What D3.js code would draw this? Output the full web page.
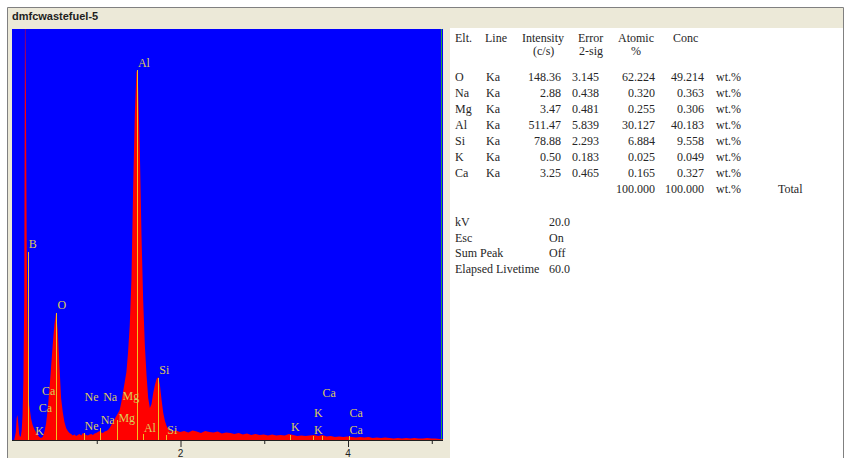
<!DOCTYPE html>
<html>
<head>
<meta charset="utf-8">
<script src="https://cdn.jsdelivr.net/npm/d3@7"></script>
<style>
  body { margin: 0; background: #ffffff; }
  svg { display: block; }
</style>
</head>
<body>
<svg id="chart" width="847" height="458"></svg>
<script>
// ---------- data ----------
const windowTitle = "dmfcwastefuel-5";

// EDS spectrum: channel energy (keV) and counts
const energies = [
  0.00, 0.02, 0.04, 0.05, 0.06, 0.07, 0.08, 0.09, 0.10, 0.11, 0.12, 0.13, 0.14, 0.15, 0.16, 0.17, 0.18, 0.19, 0.20,
  0.22, 0.24, 0.26, 0.28, 0.30, 0.32, 0.34, 0.36, 0.38, 0.40, 0.42, 0.44, 0.46, 0.48, 0.50, 0.52, 0.54, 0.56, 0.58,
  0.60, 0.62, 0.64, 0.66, 0.68, 0.70, 0.72, 0.74, 0.76, 0.78, 0.80, 0.82, 0.84, 0.86, 0.88, 0.90, 0.92, 0.94, 0.96,
  0.98, 1.00, 1.02, 1.04, 1.06, 1.08, 1.10, 1.12, 1.14, 1.16, 1.18, 1.20, 1.22, 1.24, 1.26, 1.28, 1.30, 1.32, 1.34,
  1.36, 1.38, 1.40, 1.42, 1.44, 1.46, 1.48, 1.49, 1.50, 1.52, 1.54, 1.56, 1.58, 1.60, 1.62, 1.64, 1.66, 1.68, 1.70,
  1.72, 1.74, 1.76, 1.78, 1.80, 1.82, 1.84, 1.86, 1.88,
  1.90, 1.95, 2.00, 2.05, 2.10, 2.15, 2.20, 2.25, 2.30, 2.35, 2.40, 2.45, 2.50, 2.55, 2.60, 2.65, 2.70, 2.75, 2.80,
  2.85, 2.90, 2.95, 3.00, 3.05, 3.10, 3.15, 3.20, 3.25, 3.30, 3.35, 3.40, 3.45, 3.50, 3.55, 3.60, 3.65, 3.70, 3.75,
  3.80, 3.85, 3.90, 3.95, 4.00, 4.05, 4.10, 4.15, 4.20, 4.25, 4.30, 4.35, 4.40, 4.45, 4.50, 4.55, 4.60, 4.65, 4.70,
  4.75, 4.80, 4.85, 4.90, 4.95, 5.00, 5.05, 5.10, 5.15
];
const counts = [
  0, 0, 80, 220, 250, 150, 60, 30, 40, 100, 250, 600, 1400, 4500, 3480, 1900, 1100, 550, 350,
  220, 150, 110, 80, 50, 30, 20, 30, 80, 160, 300, 500, 720, 950, 1150, 1270, 1100, 750, 420,
  280, 180, 120, 90, 70, 60, 45, 55, 40, 50, 60, 45, 70, 60, 50, 45, 55, 60, 50,
  65, 70, 80, 90, 75, 70, 85, 90, 100, 120, 150, 180, 210, 240, 270, 300, 380, 480, 580,
  680, 880, 1150, 1600, 2500, 3250, 3680, 3700, 3520, 2900, 2050, 1400, 950, 650, 420, 320, 360, 470, 550,
  610, 630, 550, 400, 270, 190, 140, 110, 90,
  85, 95, 80, 90, 75, 95, 85, 70, 90, 80, 75, 85, 65, 75, 70, 60, 70, 55, 65,
  50, 60, 50, 55, 45, 55, 45, 50, 45, 60, 50, 40, 45, 40, 45, 50, 40, 50, 35,
  40, 30, 35, 30, 35, 30, 25, 30, 25, 30, 20, 25, 20, 25, 20, 15, 20, 15, 20,
  15, 20, 15, 15, 20, 15, 15, 10, 10
];

// KLM marker lines: element, energy (keV), marker height (counts)
const markerElements = ["B", "O", "Al", "Si", "Ne", "Na", "Mg", "Al", "Si", "K", "K", "Ca", "Ca"];
const markerEnergies = [0.183, 0.525, 1.486, 1.740, 0.849, 1.041, 1.253, 1.557, 1.836, 3.312, 3.589, 3.690, 4.012];
const markerHeights  = [1880, 1270, 3700, 620, 70, 120, 200, 60, 50, 50, 40, 40, 40];

// element labels: name, energy (keV), label height (counts)
const labelNames    = ["B", "O", "Al", "Si", "Ca", "Ca", "K", "Ne", "Na", "Mg", "Ne", "Na", "Mg", "Al", "Si",
                       "Ca", "K", "Ca", "K", "K", "Ca"];
const labelEnergies = [0.183, 0.525, 1.486, 1.740, 0.341, 0.302, 0.260, 0.849, 1.071, 1.302, 0.849, 1.041, 1.253, 1.557, 1.836,
                       3.690, 3.589, 4.012, 3.312, 3.589, 4.012];
const labelHeights  = [1920, 1310, 3730, 660, 450, 280, 50, 390, 390, 400, 100, 160, 180, 80, 60,
                       430, 230, 230, 90, 60, 60];

// energy axis
const axisTicks = [1, 2, 3, 4, 5];
const axisTickLabels = ["", "2", "", "4", ""];

// quantitative results
const tableElements = ["O", "Na", "Mg", "Al", "Si", "K", "Ca"];
const tableLines    = ["Ka", "Ka", "Ka", "Ka", "Ka", "Ka", "Ka"];
const intensity     = [148.36, 2.88, 3.47, 511.47, 78.88, 0.50, 3.25];
const error2sig     = [3.145, 0.438, 0.481, 5.839, 2.293, 0.183, 0.465];
const atomicPct     = [62.224, 0.320, 0.255, 30.127, 6.884, 0.025, 0.165];
const concWt        = [49.214, 0.363, 0.306, 40.183, 9.558, 0.049, 0.327];
const totalAtomic   = 100.000;
const totalConc     = 100.000;

// acquisition settings
const settingNames  = ["kV", "Esc", "Sum Peak", "Elapsed Livetime"];
const settingValues = ["20.0", "On", "Off", "60.0"];

// ---------- drawing ----------
const svg = d3.select("#chart");
const W = 847, H = 458;
const plot = { left: 12, right: 443, top: 29, bottom: 440 };

const x = d3.scaleLinear().domain([0, 5.14]).range([12.5, 443]);
const y = d3.scaleLinear().domain([0, 4110]).range([plot.bottom, plot.top]);

const serif = "'Liberation Serif', 'Times New Roman', serif";
const sans = "'Liberation Sans', Arial, sans-serif";

// window chrome
svg.append("rect").attr("x", 0).attr("y", 0).attr("width", W).attr("height", H).attr("fill", "#ffffff");
svg.append("rect").attr("x", 8).attr("y", 8).attr("width", 835).attr("height", 20).attr("fill", "#ece9d8");
svg.append("rect").attr("x", 8).attr("y", 28).attr("width", 442).attr("height", H - 28).attr("fill", "#ece9d8");
svg.append("path")
  .attr("d", `M7.5,${H} V7.5 H843.5 V${H}`)
  .attr("fill", "none").attr("stroke", "#808080").attr("stroke-width", 1);
svg.append("text")
  .attr("x", 12).attr("y", 20)
  .attr("font-family", sans).attr("font-weight", "bold").attr("font-size", 11)
  .attr("fill", "#1e1e1e")
  .text(windowTitle);

// plot background
svg.append("rect")
  .attr("x", plot.left).attr("y", plot.top)
  .attr("width", plot.right - plot.left).attr("height", plot.bottom - plot.top)
  .attr("fill", "#0000ff");

svg.append("clipPath").attr("id", "plotClip")
  .append("rect")
  .attr("x", plot.left).attr("y", plot.top)
  .attr("width", plot.right - plot.left).attr("height", plot.bottom - plot.top);

const g = svg.append("g").attr("clip-path", "url(#plotClip)");

// spectrum
const spectrum = energies.map((e, i) => ({ e, c: counts[i] }));
const area = d3.area()
  .x(d => x(d.e))
  .y0(y(0))
  .y1(d => y(d.c));
g.append("path").datum(spectrum).attr("d", area).attr("fill", "#ff0000");

// marker lines
g.selectAll("line.marker")
  .data(markerEnergies.map((e, i) => ({ e, h: markerHeights[i], el: markerElements[i] })))
  .join("line")
  .attr("class", "marker")
  .attr("x1", d => Math.round(x(d.e)) + 0.5).attr("x2", d => Math.round(x(d.e)) + 0.5)
  .attr("y1", y(0)).attr("y2", d => y(d.h))
  .attr("stroke", "#f0c020").attr("stroke-width", 1);

// cursor line
g.append("line")
  .attr("x1", 441.5).attr("x2", 441.5).attr("y1", plot.top).attr("y2", plot.bottom)
  .attr("stroke", "#20a040").attr("stroke-width", 1);

// element labels
g.selectAll("text.elt")
  .data(labelNames.map((n, i) => ({ n, e: labelEnergies[i], h: labelHeights[i] })))
  .join("text")
  .attr("class", "elt")
  .attr("x", d => x(d.e) + 1)
  .attr("y", d => y(d.h))
  .attr("font-family", serif).attr("font-size", 12)
  .attr("fill", "#dccb5a")
  .text(d => d.n);

// energy axis
const axis = d3.axisBottom(x)
  .tickValues(axisTicks)
  .tickSize(0)
  .tickFormat("");
const ax = svg.append("g").attr("transform", `translate(0,${plot.bottom})`).call(axis);
ax.select(".domain").remove();
svg.append("line")
  .attr("x1", plot.left).attr("x2", plot.right)
  .attr("y1", plot.bottom + 0.5).attr("y2", plot.bottom + 0.5)
  .attr("stroke", "#202020");
ax.selectAll(".tick").each(function (d, i) {
  const t = d3.select(this);
  const major = axisTickLabels[i] !== "";
  t.append("line")
    .attr("x1", 0.5).attr("x2", 0.5)
    .attr("y1", 0).attr("y2", major ? 7 : 4)
    .attr("stroke", "#202020");
  if (major) {
    t.append("text")
      .attr("x", 0).attr("y", 17)
      .attr("text-anchor", "middle")
      .attr("font-family", sans).attr("font-size", 10)
      .attr("fill", "#202020")
      .text(axisTickLabels[i]);
  }
});

// ---------- results table ----------
const tcol = "#262626";
const T = svg.append("g")
  .attr("font-family", serif).attr("font-size", 12).attr("fill", tcol);

function txt(xp, yp, s, anchor) {
  T.append("text").attr("x", xp).attr("y", yp)
    .attr("text-anchor", anchor || "start").text(s);
}

// header
txt(455, 42, "Elt.");
txt(485, 42, "Line");
txt(522, 42, "Intensity");
txt(533, 55, "(c/s)");
txt(578, 42, "Error");
txt(579, 55, "2-sig");
txt(618, 42, "Atomic");
txt(631, 55, "%");
txt(673, 42, "Conc");

const rowY = i => 81 + 16 * i;
const f2 = d3.format(".2f"), f3 = d3.format(".3f");
tableElements.forEach((el, i) => {
  const yy = rowY(i);
  txt(455, yy, el);
  txt(486, yy, tableLines[i]);
  txt(561, yy, f2(intensity[i]), "end");
  txt(599, yy, f3(error2sig[i]), "end");
  txt(655, yy, f3(atomicPct[i]), "end");
  txt(704, yy, f3(concWt[i]), "end");
  txt(716, yy, "wt.%");
});
const totY = rowY(tableElements.length);
txt(655, totY, f3(totalAtomic), "end");
txt(704, totY, f3(totalConc), "end");
txt(716, totY, "wt.%");
txt(778, totY, "Total");

// settings
settingNames.forEach((s, i) => {
  const yy = 226 + 15.6 * i;
  txt(455, yy, s);
  txt(549, yy, settingValues[i]);
});
</script>
</body>
</html>
